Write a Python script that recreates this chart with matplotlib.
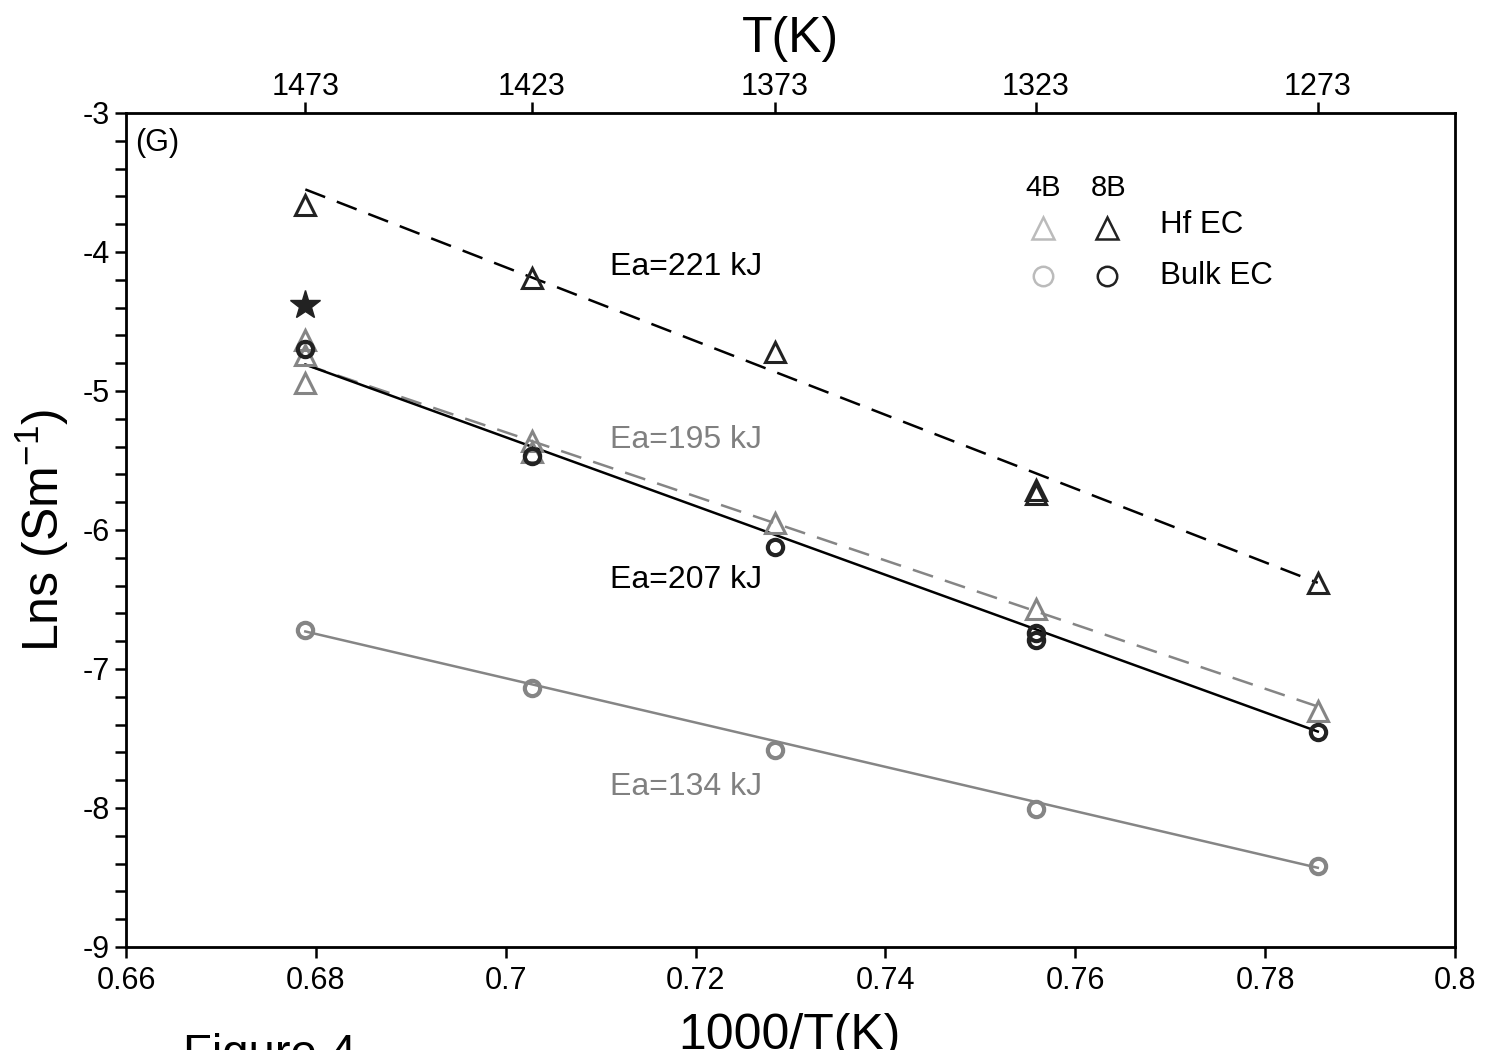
import numpy as np
import matplotlib
matplotlib.use("Agg")
import matplotlib.pyplot as plt
from matplotlib.ticker import MultipleLocator, FixedLocator

plt.rcParams['font.family'] = ['Liberation Sans', 'DejaVu Sans']

# temperatures (K) and 1000/T
temps = [1473, 1423, 1373, 1323, 1273]
inv_t = [1000.0 / t for t in temps]

# 8B Hf EC (black triangles), repeated x for duplicate runs
hf8_x = [1000/1473, 1000/1423, 1000/1373, 1000/1323, 1000/1323, 1000/1273]
hf8_y = [-3.66, -4.19, -4.72, -5.71, -5.74, -6.38]

# 4B Hf EC (grey triangles)
hf4_x = [1000/1473, 1000/1473, 1000/1473, 1000/1423, 1000/1423, 1000/1373, 1000/1323, 1000/1273]
hf4_y = [-4.63, -4.74, -4.94, -5.36, -5.44, -5.95, -6.57, -7.30]

# 8B Bulk EC (black circles)
bulk8_x = [1000/1473, 1000/1423, 1000/1373, 1000/1323, 1000/1323, 1000/1273]
bulk8_y = [-4.70, -5.47, -6.12, -6.74, -6.79, -7.45]

# 4B Bulk EC (grey circles)
bulk4_y = [-6.72, -7.14, -7.58, -8.01, -8.42]

# single star point
star_x = [1000/1473]
star_y = [-4.38]

# fit line endpoints
fit_x = [1000/1473, 1000/1273]
fit221 = [-3.55, -6.38]
fit195 = [-4.81, -7.27]
fit207 = [-4.81, -7.45]
fit134 = [-6.73, -8.43]

ea_labels = ['Ea=221 kJ', 'Ea=195 kJ', 'Ea=207 kJ', 'Ea=134 kJ']
ea_pos_y = [-4.11, -5.35, -6.36, -7.85]
ea_colors = ['black', '#808080', 'black', '#808080']

grey = '#858585'
dash = (0, (8.5, 5))

fig = plt.figure(figsize=(14.9, 10.5), dpi=100)
ax = fig.add_axes([0.0846, 0.0981, 0.8919, 0.7943])

ax.plot(fit_x, fit221, color='black', lw=1.8, ls=dash)
ax.plot(fit_x, fit195, color=grey, lw=1.8, ls=dash)
ax.plot(fit_x, fit207, color='black', lw=1.8)
ax.plot(fit_x, fit134, color=grey, lw=1.8)

ax.plot(hf4_x, hf4_y, ls='none', marker='^', ms=15, mfc='none', mec=grey, mew=2.2)
ax.plot(inv_t, bulk4_y, ls='none', marker='o', ms=11, mfc='none', mec=grey, mew=3)
ax.plot(hf8_x, hf8_y, ls='none', marker='^', ms=15, mfc='none', mec='#222222', mew=2.2)
ax.plot(bulk8_x, bulk8_y, ls='none', marker='o', ms=11, mfc='none', mec='#222222', mew=3)
ax.plot(star_x, star_y, ls='none', marker='*', ms=22, color='#222222')

for lab, yy, cc in zip(ea_labels, ea_pos_y, ea_colors):
    ax.text(0.711, yy, lab, color=cc, fontsize=23, va='center', ha='left')

# legend built by hand
ax.text(0.690, 0.910, '4B', transform=ax.transAxes, fontsize=21, ha='center', va='center')
ax.text(0.739, 0.910, '8B', transform=ax.transAxes, fontsize=21, ha='center', va='center')
ax.plot([0.690], [0.862], transform=ax.transAxes, marker='^', ms=16, mfc='none', mec='#bbbbbb', mew=1.8)
ax.plot([0.738], [0.862], transform=ax.transAxes, marker='^', ms=16, mfc='none', mec='#222222', mew=1.8)
ax.plot([0.690], [0.805], transform=ax.transAxes, marker='o', ms=14, mfc='none', mec='#bbbbbb', mew=1.8)
ax.plot([0.738], [0.805], transform=ax.transAxes, marker='o', ms=14, mfc='none', mec='#222222', mew=1.8)
ax.text(0.778, 0.866, 'Hf EC', transform=ax.transAxes, fontsize=22.5, ha='left', va='center')
ax.text(0.778, 0.805, 'Bulk EC', transform=ax.transAxes, fontsize=22.5, ha='left', va='center')

ax.text(0.007, 0.964, '(G)', transform=ax.transAxes, fontsize=22, ha='left', va='center')

ax.set_xlim(0.66, 0.8)
ax.set_ylim(-9, -3)
ax.set_xticks(np.arange(0.66, 0.801, 0.02))
ax.set_xticklabels(['0.66', '0.68', '0.7', '0.72', '0.74', '0.76', '0.78', '0.8'])
ax.set_yticks([-3, -4, -5, -6, -7, -8, -9])
ax.set_yticklabels(['-3', '-4', '-5', '-6', '-7', '-8', '-9'])
ax.yaxis.set_minor_locator(MultipleLocator(0.2))
ax.tick_params(axis='both', which='both', direction='out', length=8, width=1.8, labelsize=22)
ax.tick_params(axis='x', pad=6)
ax.tick_params(axis='y', pad=4)
for sp in ax.spines.values():
    sp.set_linewidth(2)

ax.set_ylabel('Lns (Sm$\\mathregular{^{-1}}$)', fontsize=36, labelpad=8)

top = ax.twiny()
top.set_xlim(ax.get_xlim())
top.xaxis.set_major_locator(FixedLocator(inv_t))
top.set_xticklabels([str(t) for t in temps])
top.tick_params(axis='x', direction='out', length=8, width=1.8, labelsize=22, pad=0)
top.set_xlabel('T(K)', fontsize=36, labelpad=14)

fig.text(789 / 1490, 0.001, '1000/T(K)', fontsize=36, ha='center', va='baseline')
fig.text(183 / 1490, -0.016, 'Figure 4', fontsize=34, ha='left', va='baseline')

fig.savefig('out.png', dpi=100)
